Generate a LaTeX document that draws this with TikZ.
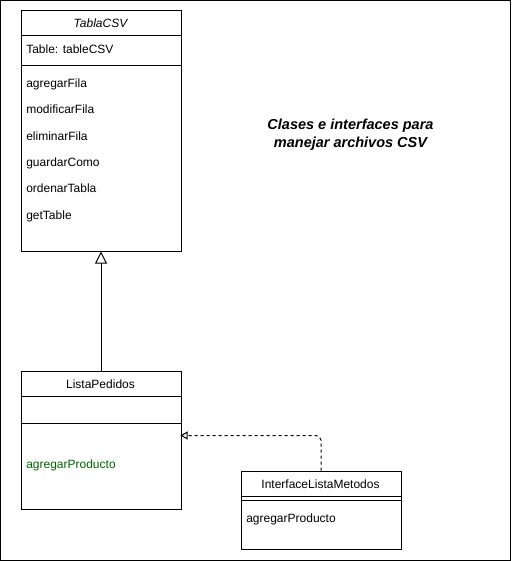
\documentclass[tikz,border=0pt]{standalone}
\usepackage{fontspec}
\setmainfont{Liberation Sans}
\usetikzlibrary{arrows.meta,calc}
\definecolor{mgreen}{RGB}{0,102,0}
\begin{document}
\begin{tikzpicture}[x=1pt,y=-1pt, line width=1pt,
  cls/.style={draw, minimum width=160pt, inner sep=0pt, anchor=north west},
  txt/.style={font=\fontsize{12}{14}\selectfont, inner sep=0pt, anchor=base west},
  hdr/.style={font=\fontsize{12}{14}\selectfont, inner sep=0pt, anchor=base}]
\useasboundingbox (0,0) rectangle (511,561);
\draw (0.5,0.5) rectangle (510,560);

% TablaCSV
\node[cls, minimum height=240pt] (tabla) at (20.5,10.5) {};
\draw ($(tabla.north west)+(0,25.5)$) -- ($(tabla.north east)+(0,25.5)$);
\draw ($(tabla.north west)+(0,55.5)$) -- ($(tabla.north east)+(0,55.5)$);
\node[hdr, font=\itshape\fontsize{12}{14}\selectfont] (tablaT) at (100.5,27.3) {TablaCSV};
\node[txt] (a1) at (25.8,53.3) {Table: tableCSV};
\node[txt] (m1) at (25.8,87.6) {agregarFila};
\node[txt] (m2) at (25.8,113.9) {modificarFila};
\node[txt] (m3) at (25.8,140.1) {eliminarFila};
\node[txt] (m4) at (25.8,166.5) {guardarComo};
\node[txt] (m5) at (25.8,192.8) {ordenarTabla};
\node[txt] (m6) at (25.8,219.1) {getTable};

% ListaPedidos
\node[cls, minimum height=138pt] (lista) at (20.5,370.5) {};
\draw ($(lista.north west)+(0,25.5)$) -- ($(lista.north east)+(0,25.5)$);
\draw ($(lista.north west)+(0,53)$) -- ($(lista.north east)+(0,53)$);
\node[hdr] (listaT) at (100.5,388.3) {ListaPedidos};
\node[txt, text=mgreen] (lm1) at (25.8,468.3) {agregarProducto};

% InterfaceListaMetodos
\node[cls, minimum height=78pt] (iface) at (240.5,470.5) {};
\draw ($(iface.north west)+(0,25.5)$) -- ($(iface.north east)+(0,25.5)$);
\draw ($(iface.north west)+(0,29.5)$) -- ($(iface.north east)+(0,29.5)$);
\node[hdr] (ifaceT) at (320.5,488.3) {InterfaceListaMetodos};
\node[txt] (im1) at (245.8,522) {agregarProducto};

% title
\node[font=\bfseries\itshape\fontsize{14.5}{17.7}\selectfont, align=center, inner sep=0pt, anchor=base] (title) at (350.5,147.3) {Clases e interfaces para\\manejar archivos CSV};

% connectors
\draw[-{Triangle[open,length=12pt,width=12pt,fill=white]}] (lista.north) -- (tabla.south);
\coordinate (tip) at (180.5,435.5);
\draw[dash pattern=on 3pt off 3pt, rounded corners=5pt, -{Triangle[open,length=7pt,width=8pt,fill=white]}] (iface.north) |- (tip);
\end{tikzpicture}
\end{document}
